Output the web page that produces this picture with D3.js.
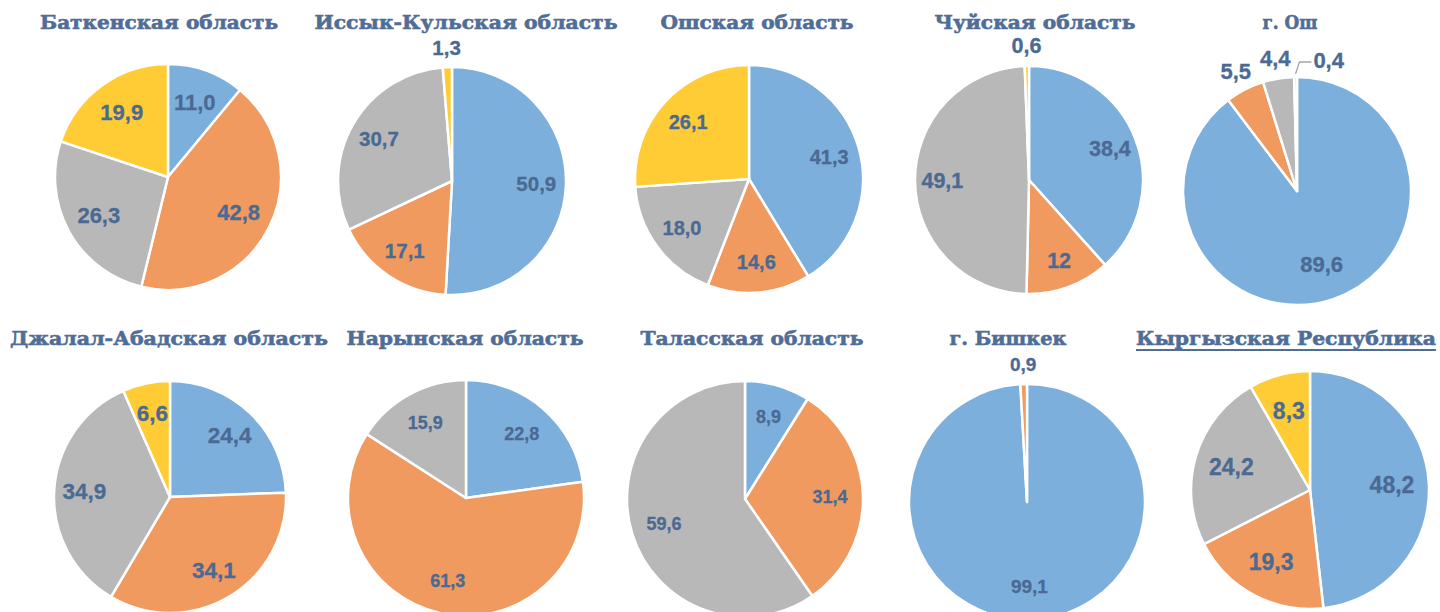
<!DOCTYPE html>
<html>
<head>
<meta charset="utf-8">
<script src="https://cdn.jsdelivr.net/npm/d3@7"></script>
<style>
  html, body { margin: 0; padding: 0; background: #fff; }
  svg { display: block; }
</style>
</head>
<body>
<svg id="chart" width="1440" height="612"></svg>
<script>
// ---- DATA ----
const categories = [
  "Баткенская область", "Иссык-Кульская область", "Ошская область", "Чуйская область", "г. Ош",
  "Джалал-Абадская область", "Нарынская область", "Таласская область", "г. Бишкек", "Кыргызская Республика"
];
const seriesNames = ["blue", "orange", "grey", "yellow"];
const seriesBlue   = [11.0, 50.9, 41.3, 38.4, 89.6, 24.4, 22.8,  8.9, 99.1, 48.2];
const seriesOrange = [42.8, 17.1, 14.6, 12,    5.5, 34.1, 61.3, 31.4,  0.9, 19.3];
const seriesGrey   = [26.3, 30.7, 18.0, 49.1,  4.4, 34.9, 15.9, 59.6,  0,   24.2];
const seriesYellow = [19.9,  1.3, 26.1,  0.6,  0.4,  6.6,  0,    0,    0,    8.3];
// label shown as typed in the source (Чуйская, orange)
const labelOverrides = { "3-1": "12" };

// ---- LAYOUT / STYLE ----
const colors = ["#7DAFDD", "#F09A5F", "#B8B8B8", "#FFCC36"];
const labelColor = "#4B6A93";
const titleColor = "#4F6D96";
const layout = [
  { cx: 168,  cy: 177, r: 113, fs: 22,   tx: 159,  ty: 29,  tw: 238, lr: 0.70 },
  { cx: 452,  cy: 181, r: 114, fs: 20.5, tx: 466,  ty: 29,  tw: 303, lr: 0.74 },
  { cx: 749,  cy: 179, r: 114, fs: 20,   tx: 757,  ty: 29,  tw: 193, lr: 0.73 },
  { cx: 1029, cy: 180, r: 114, fs: 21.5, tx: 1035, ty: 29,  tw: 201, lr: 0.76 },
  { cx: 1297, cy: 191, r: 114, fs: 22,   tx: 1290, ty: 29,  tw: 55,  lr: 0.68 },
  { cx: 170,  cy: 497, r: 116, fs: 22.5, tx: 169,  ty: 345, tw: 318, lr: 0.74 },
  { cx: 466,  cy: 498, r: 118, fs: 18,   tx: 465,  ty: 345, tw: 237, lr: 0.72 },
  { cx: 745,  cy: 499, r: 118, fs: 18,   tx: 752,  ty: 345, tw: 223, lr: 0.72 },
  { cx: 1027, cy: 502, r: 118, fs: 19,   tx: 1008, ty: 345, tw: 117, lr: 0.72 },
  { cx: 1310, cy: 490, r: 119, fs: 23,   tx: 1286, ty: 345, tw: 300, lr: 0.69 }
];
const insideThreshold = 6;
const leaderSlices = { "4-3": true };

const svg = d3.select("#chart");
const color = d3.scaleOrdinal().domain(seriesNames).range(colors);
const pie = d3.pie().sort(null).value(d => d.value);
const fmt = v => d3.format(".1f")(v).replace(".", ",");

categories.forEach((cat, i) => {
  const L = layout[i];
  const vals = [seriesBlue[i], seriesOrange[i], seriesGrey[i], seriesYellow[i]]
    .map((v, k) => ({ key: seriesNames[k], k, value: v }));
  const arcs = pie(vals).filter(a => a.data.value > 0);
  const arc = d3.arc().innerRadius(0).outerRadius(L.r);
  const g = svg.append("g").attr("transform", `translate(${L.cx},${L.cy})`);

  g.selectAll("path").data(arcs).join("path")
    .attr("d", arc)
    .attr("fill", d => color(d.data.key))
    .attr("stroke", "#fff")
    .attr("stroke-width", 2.5)
    .attr("stroke-linejoin", "round");

  arcs.forEach(a => {
    const mid = (a.startAngle + a.endAngle) / 2;
    const id = i + "-" + a.data.k;
    const txt = labelOverrides[id] || fmt(a.data.value);
    const inside = a.data.value >= insideThreshold;
    let x, y, anchor = "middle";
    if (inside) {
      const rr = L.r * L.lr;
      x = Math.sin(mid) * rr; y = -Math.cos(mid) * rr;
    } else if (leaderSlices[id]) {
      const sx = Math.sin(mid) * (L.r + 3), sy = -Math.cos(mid) * (L.r + 3);
      const ex = Math.sin(mid) * (L.r + 15) + 4, ey = -Math.cos(mid) * (L.r + 15);
      g.append("polyline")
        .attr("points", `${sx},${sy} ${ex},${ey} ${ex + 12},${ey}`)
        .attr("fill", "none").attr("stroke", "#A6A6A6").attr("stroke-width", 1.3);
      x = ex + 14; y = ey - 2; anchor = "start";
    } else {
      const rr = L.r + 20;
      x = Math.sin(mid) * rr; y = -Math.cos(mid) * rr;
    }
    g.append("text")
      .attr("x", x).attr("y", y)
      .attr("text-anchor", anchor)
      .attr("dominant-baseline", "central")
      .attr("font-family", "'Liberation Sans', Arial, sans-serif")
      .attr("font-weight", "bold")
      .attr("font-size", L.fs)
      .attr("fill", labelColor)
      .attr("stroke", labelColor)
      .attr("stroke-width", 0.3)
      .text(txt);
  });

  const t = svg.append("text")
    .attr("x", L.tx).attr("y", L.ty)
    .attr("text-anchor", "middle")
    .attr("font-family", "'DejaVu Serif', serif")
    .attr("font-weight", "bold")
    .attr("font-size", 19)
    .attr("textLength", L.tw)
    .attr("lengthAdjust", "spacingAndGlyphs")
    .attr("fill", titleColor)
    .attr("stroke", titleColor)
    .attr("stroke-width", 0.6)
    .text(cat);
  if (i === categories.length - 1) {
    svg.append("rect")
      .attr("x", L.tx - L.tw / 2).attr("y", L.ty + 4)
      .attr("width", L.tw).attr("height", 2)
      .attr("fill", titleColor);
  }
});
</script>
</body>
</html>
